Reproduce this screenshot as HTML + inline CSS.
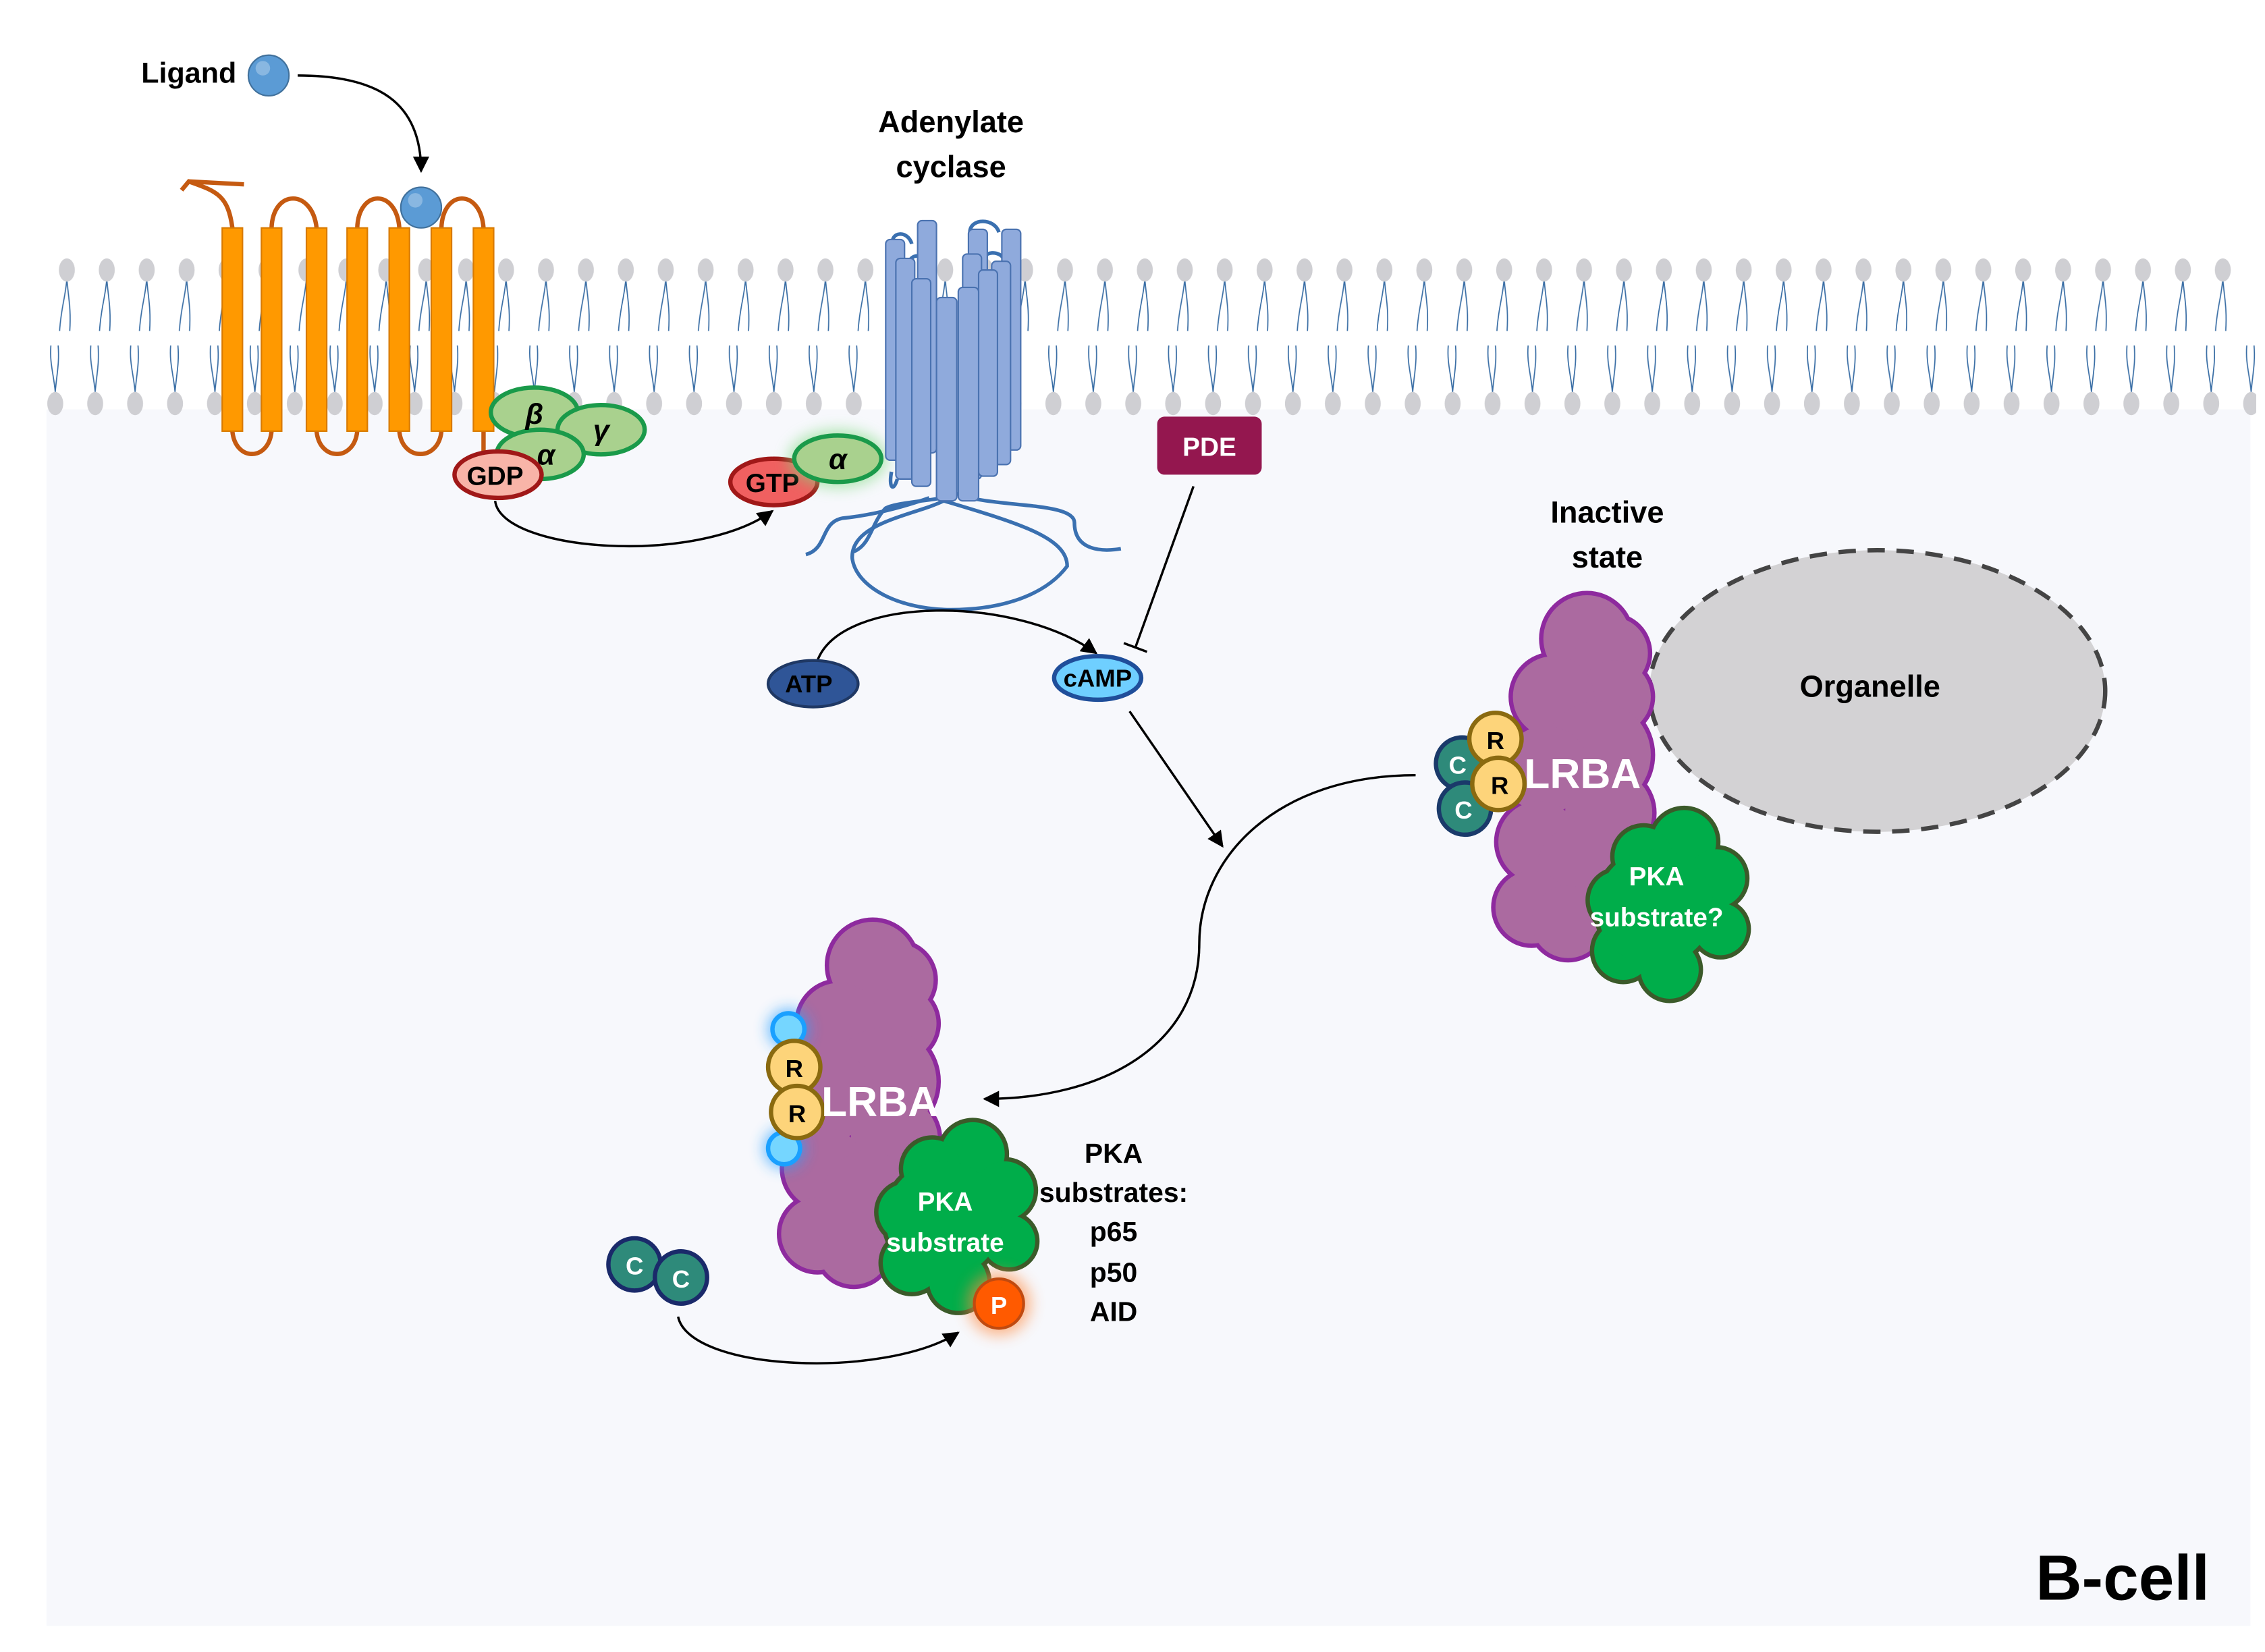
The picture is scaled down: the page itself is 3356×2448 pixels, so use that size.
<!DOCTYPE html>
<html><head><meta charset="utf-8"><style>
html,body{margin:0;padding:0;background:#fff;}
svg{display:block;}
text{font-family:"Liberation Sans",sans-serif;font-weight:bold;}
</style></head><body>
<svg width="3356" height="2448" viewBox="0 0 1560 1138" xmlns="http://www.w3.org/2000/svg">
<defs>
<marker id="ar" viewBox="0 0 10 10" refX="9" refY="5" markerWidth="7" markerHeight="7" orient="auto"><path d="M0,0 L10,5 L0,10 z" fill="#000"/></marker>
<pattern id="lipT" x="32" y="0" width="27.5" height="1138" patternUnits="userSpaceOnUse">
<path d="M14,192 C13,205 10,212 9,228 M14,192 C15,205 17,212 16,228" stroke="#3a6ea5" stroke-width="0.8" fill="none"/>
<ellipse cx="14" cy="186" rx="5.5" ry="8" fill="#cfcfd3"/>
</pattern>
<pattern id="lipB" x="24" y="0" width="27.5" height="1138" patternUnits="userSpaceOnUse">
<path d="M14,270 C13,258 10,250 11,238 M14,270 C15,258 17,250 16,238" stroke="#3a6ea5" stroke-width="0.8" fill="none"/>
<ellipse cx="14" cy="278" rx="5.5" ry="8" fill="#cfcfd3"/>
</pattern>
<filter id="glow" x="-1" y="-1" width="3" height="3"><feGaussianBlur stdDeviation="5"/></filter>
</defs>
<rect x="32" y="282" width="1518" height="838" fill="#f7f8fc"/>
<rect x="32" y="170" width="1520" height="125" fill="url(#lipT)"/>
<rect x="24" y="170" width="1530" height="125" fill="url(#lipB)"/>

<!-- Ligand -->
<text x="130" y="57" font-size="20" text-anchor="middle">Ligand</text>
<circle cx="185" cy="52" r="14" fill="#5b9bd5" stroke="#41719c" stroke-width="1"/>
<circle cx="181" cy="47" r="5" fill="#9cc3e6" opacity="0.7"/>
<path d="M205,52 C260,52 290,70 290,118" stroke="#000" stroke-width="1.6" fill="none" marker-end="url(#ar)"/>

<!-- GPCR -->
<g stroke="#c55a11" stroke-width="3" fill="none">
<path d="M125,131 L130,125 C150,132 157,135 160,157"/>
<path d="M130,125 L168,127"/>
<path d="M187,157 C188,130 215,130 218,157"/>
<path d="M246,157 C247,130 273,130 275,157"/>
<path d="M304,157 C305,130 331,130 333,157"/>
<path d="M160,297 C162,318 185,318 187,297"/>
<path d="M218,297 C220,318 244,318 246,297"/>
<path d="M275,297 C277,318 302,318 304,297"/>
<path d="M333,297 L333,315"/>
</g>
<g fill="#ff9900" stroke="#d87a00" stroke-width="1">
<rect x="153" y="157" width="14" height="140"/>
<rect x="180" y="157" width="14" height="140"/>
<rect x="211" y="157" width="14" height="140"/>
<rect x="239" y="157" width="14" height="140"/>
<rect x="268" y="157" width="14" height="140"/>
<rect x="297" y="157" width="14" height="140"/>
<rect x="326" y="157" width="14" height="140"/>
</g>
<circle cx="290" cy="143" r="14" fill="#5b9bd5" stroke="#41719c"/>
<circle cx="286" cy="138" r="5" fill="#9cc3e6" opacity="0.7"/>

<!-- G protein -->
<g stroke="#1a9a4a" stroke-width="3" fill="#a9d18e">
<ellipse cx="368" cy="284" rx="30" ry="17"/>
<ellipse cx="414" cy="296" rx="30" ry="17"/>
<ellipse cx="372" cy="313" rx="30" ry="17"/>
</g>
<text x="368" y="292" font-size="20" font-style="italic" font-family="Liberation Serif" text-anchor="middle">β</text>
<text x="414" y="303" font-size="20" font-style="italic" font-family="Liberation Serif" text-anchor="middle">γ</text>
<text x="376" y="320" font-size="20" font-style="italic" font-family="Liberation Serif" text-anchor="middle">α</text>
<ellipse cx="343" cy="327" rx="30" ry="16" fill="#f8b4a8" stroke="#a01818" stroke-width="3"/>
<text x="341" y="334" font-size="18" text-anchor="middle">GDP</text>
<path d="M341,345 C345,380 480,390 532,352" stroke="#000" stroke-width="1.6" fill="none" marker-end="url(#ar)"/>

<ellipse cx="533" cy="332" rx="30" ry="16" fill="#f06060" stroke="#a01818" stroke-width="3"/>
<text x="532" y="339" font-size="18" text-anchor="middle">GTP</text>
<ellipse cx="577" cy="316" rx="34" ry="20" fill="#7ed97e" opacity="0.6" filter="url(#glow)"/>
<ellipse cx="577" cy="316" rx="30" ry="16" fill="#a9d18e" stroke="#1a9a4a" stroke-width="3"/>
<text x="577" y="323" font-size="20" font-style="italic" font-family="Liberation Serif" text-anchor="middle">α</text>

<!-- Adenylate cyclase -->
<text x="655" y="91" font-size="21" text-anchor="middle">Adenylate</text>
<text x="655" y="122" font-size="21" text-anchor="middle">cyclase</text>
<g stroke="#3a70b0" stroke-width="2.5" fill="none">
<path d="M588,380 C600,375 600,360 610,350 C620,345 650,345 660,340"/>
<path d="M555,382 C570,378 565,360 580,357 C600,355 620,350 640,343"/>
<path d="M660,340 C680,350 740,345 740,360 C740,380 760,380 772,378"/>
<path d="M650,345 C700,360 735,370 735,390 C720,410 690,420 655,420 C620,420 590,405 587,385 C585,360 630,355 650,345"/>
<path d="M618,330 C615,340 612,335 614,325"/>
<path d="M615,168 C613,160 625,158 628,168 M668,160 C668,150 685,150 688,160 M626,185 C624,175 636,173 640,182 M676,182 C676,172 690,172 692,180"/>
</g>
<g fill="#8faadc" stroke="#4a72b0" stroke-width="1">
<rect x="610" y="165" width="13" height="152" rx="3"/>
<rect x="632" y="152" width="13" height="160" rx="3"/>
<rect x="667" y="158" width="13" height="150" rx="3"/>
<rect x="690" y="158" width="13" height="152" rx="3"/>
<rect x="617" y="178" width="13" height="152" rx="3"/>
<rect x="683" y="180" width="13" height="140" rx="3"/>
<rect x="663" y="175" width="13" height="155" rx="3"/>
<rect x="628" y="192" width="13" height="143" rx="3"/>
<rect x="674" y="186" width="13" height="142" rx="3"/>
<rect x="645" y="205" width="14" height="140" rx="3"/>
<rect x="660" y="198" width="14" height="147" rx="3"/>
</g>

<!-- PDE -->
<rect x="797" y="287" width="72" height="40" rx="5" fill="#94174f"/>
<text x="833" y="314" font-size="18" fill="#fff" text-anchor="middle">PDE</text>
<path d="M822,335 L782,446" stroke="#000" stroke-width="1.6"/>
<path d="M774,443 L790,449" stroke="#000" stroke-width="1.6"/>

<!-- ATP/cAMP -->
<path d="M563,455 C580,410 700,410 755,450" stroke="#000" stroke-width="1.6" fill="none" marker-end="url(#ar)"/>
<ellipse cx="560" cy="471" rx="31" ry="16" fill="#2f5597" stroke="#1f3864" stroke-width="2"/>
<text x="557" y="477" font-size="17" text-anchor="middle">ATP</text>
<ellipse cx="756" cy="467" rx="30" ry="15" fill="#6fcfff" stroke="#1f4e9a" stroke-width="3"/>
<text x="756" y="473" font-size="17" text-anchor="middle">cAMP</text>
<path d="M778,490 L842,583" stroke="#000" stroke-width="1.6" marker-end="url(#ar)"/>

<!-- Organelle -->
<ellipse cx="1293" cy="476" rx="157" ry="97" fill="#d3d2d4" stroke="#444" stroke-width="3" stroke-dasharray="12,8"/>
<text x="1288" y="480" font-size="21" text-anchor="middle">Organelle</text>
<text x="1107" y="360" font-size="21" text-anchor="middle">Inactive</text>
<text x="1107" y="391" font-size="21" text-anchor="middle">state</text>

<!-- LRBA inactive -->
<g id="lrba">
<g fill="#ab6aa0" stroke="#8e2a9e" stroke-width="6">
<circle cx="1093" cy="440" r="30"/><circle cx="1110" cy="450" r="25"/><circle cx="1112" cy="480" r="25"/>
<circle cx="1070" cy="480" r="28"/><circle cx="1100" cy="520" r="37"/><circle cx="1065" cy="530" r="30"/>
<circle cx="1108" cy="560" r="30"/><circle cx="1060" cy="580" r="28"/><circle cx="1090" cy="600" r="32"/>
<circle cx="1055" cy="625" r="25"/><circle cx="1080" cy="635" r="25"/>
</g>
<g fill="#ab6aa0">
<circle cx="1093" cy="440" r="30"/><circle cx="1110" cy="450" r="25"/><circle cx="1112" cy="480" r="25"/>
<circle cx="1070" cy="480" r="28"/><circle cx="1100" cy="520" r="37"/><circle cx="1065" cy="530" r="30"/>
<circle cx="1108" cy="560" r="30"/><circle cx="1060" cy="580" r="28"/><circle cx="1090" cy="600" r="32"/>
<circle cx="1055" cy="625" r="25"/><circle cx="1080" cy="635" r="25"/>
</g>
</g>
<g fill="#2e8a7a" stroke="#1a3a6a" stroke-width="3">
<circle cx="1007" cy="526" r="18"/><circle cx="1009" cy="557" r="18"/>
</g>
<text x="1004" y="533" font-size="17" fill="#fff" text-anchor="middle">C</text>
<text x="1008" y="564" font-size="17" fill="#fff" text-anchor="middle">C</text>
<g fill="#fdd47a" stroke="#8a6a10" stroke-width="3">
<circle cx="1030" cy="509" r="18"/><circle cx="1032" cy="540" r="18"/>
</g>
<text x="1030" y="516" font-size="17" text-anchor="middle">R</text>
<text x="1033" y="547" font-size="17" text-anchor="middle">R</text>
<text x="1090" y="543" font-size="29" fill="#fff" text-anchor="middle">LRBA</text>

<g id="green1">
<g fill="#00ad4a" stroke="#3b5a2a" stroke-width="6">
<circle cx="1160" cy="580" r="22"/><circle cx="1132" cy="590" r="20"/><circle cx="1182" cy="605" r="20"/>
<circle cx="1115" cy="620" r="20"/><circle cx="1185" cy="640" r="18"/><circle cx="1118" cy="655" r="20"/>
<circle cx="1150" cy="668" r="20"/><circle cx="1140" cy="625" r="40"/>
</g>
<g fill="#00ad4a">
<circle cx="1160" cy="580" r="22"/><circle cx="1132" cy="590" r="20"/><circle cx="1182" cy="605" r="20"/>
<circle cx="1115" cy="620" r="20"/><circle cx="1185" cy="640" r="18"/><circle cx="1118" cy="655" r="20"/>
<circle cx="1150" cy="668" r="20"/><circle cx="1140" cy="625" r="40"/>
</g>
</g>
<text x="1141" y="610" font-size="18" fill="#fff" text-anchor="middle">PKA</text>
<text x="1141" y="638" font-size="18" fill="#fff" text-anchor="middle">substrate?</text>

<path d="M975,534 C880,534 826,590 826,650 C826,720 760,757 678,757" stroke="#000" stroke-width="1.6" fill="none" marker-end="url(#ar)"/>

<!-- LRBA active -->
<use href="#lrba" transform="translate(-492,225)"/>
<circle cx="543" cy="709" r="14" fill="#2aa0ff" opacity="0.7" filter="url(#glow)"/>
<circle cx="540" cy="791" r="14" fill="#2aa0ff" opacity="0.7" filter="url(#glow)"/>
<circle cx="543" cy="709" r="11" fill="#75d6ff" stroke="#1aa0ff" stroke-width="3"/>
<circle cx="540" cy="791" r="11" fill="#75d6ff" stroke="#1aa0ff" stroke-width="3"/>
<g fill="#fdd47a" stroke="#8a6a10" stroke-width="3">
<circle cx="547" cy="735" r="18"/><circle cx="549" cy="766" r="18"/>
</g>
<text x="547" y="742" font-size="17" text-anchor="middle">R</text>
<text x="549" y="773" font-size="17" text-anchor="middle">R</text>
<text x="606" y="769" font-size="29" fill="#fff" text-anchor="middle">LRBA</text>
<use href="#green1" transform="translate(-490,215)"/>
<circle cx="688" cy="898" r="22" fill="#ff8a40" opacity="0.6" filter="url(#glow)"/>
<circle cx="688" cy="898" r="17" fill="#ff5a00" stroke="#c04a10" stroke-width="2"/>
<text x="688" y="905" font-size="17" fill="#fff" text-anchor="middle">P</text>
<text x="651" y="834" font-size="18" fill="#fff" text-anchor="middle">PKA</text>
<text x="651" y="862" font-size="18" fill="#fff" text-anchor="middle">substrate</text>

<g font-size="19" text-anchor="middle">
<text x="767" y="801">PKA</text>
<text x="767" y="828">substrates:</text>
<text x="767" y="855">p65</text>
<text x="767" y="883">p50</text>
<text x="767" y="910">AID</text>
</g>

<g fill="#2e8a7a" stroke="#1a2a6a" stroke-width="3">
<circle cx="437" cy="871" r="18"/><circle cx="469" cy="880" r="18"/>
</g>
<text x="437" y="878" font-size="17" fill="#fff" text-anchor="middle">C</text>
<text x="469" y="887" font-size="17" fill="#fff" text-anchor="middle">C</text>
<path d="M467,907 C475,945 610,950 660,918" stroke="#000" stroke-width="1.6" fill="none" marker-end="url(#ar)"/>

<text x="1462" y="1102" font-size="44" text-anchor="middle">B-cell</text>
</svg>
</body></html>
